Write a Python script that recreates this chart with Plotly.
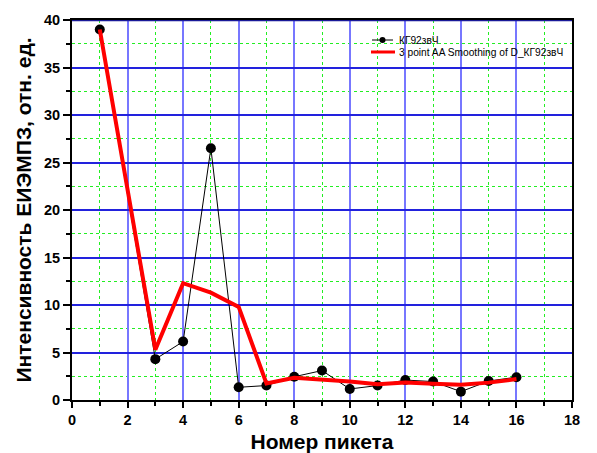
import plotly.graph_objects as go

# Picket numbers and measured intensity
pickets = [1, 3, 4, 5, 6, 7, 8, 9, 10, 11, 12, 13, 14, 15, 16]
intensity = [39.0, 4.3, 6.15, 26.5, 1.34, 1.52, 2.45, 3.1, 1.16, 1.52, 2.1, 1.94, 0.88, 2.0, 2.4]

# 3-point adjacent-averaging smoothed curve
smoothed = [39.0, 5.3, 12.3, 11.3, 9.8, 1.75, 2.35, 2.2, 1.95, 1.66, 1.83, 1.7, 1.6, 1.83, 2.2]

x_ticks = list(range(0, 19, 2))
y_ticks = list(range(0, 41, 5))

name_raw = "КГ92звЧ"
name_smooth = "3 point AA Smoothing of D_КГ92звЧ"

FONT = "Arial, Liberation Sans, sans-serif"
W, H = 597, 453
ML, MR, MT, MB = 72, 25, 20, 53
PW, PH = W - ML - MR, H - MT - MB


def px(x):
    return (x - ML) / PW


def py(y):
    return (H - MB - y) / PH


fig = go.Figure()
fig.add_trace(go.Scatter(
    x=pickets, y=intensity, mode="lines+markers", name=name_raw,
    line=dict(color="black", width=1),
    marker=dict(color="black", size=10),
    showlegend=False,
))
fig.add_trace(go.Scatter(
    x=pickets, y=smoothed, mode="lines", name=name_smooth,
    line=dict(color="#ff0000", width=4),
    showlegend=False,
))

# navy line closing the frame at the top
fig.add_shape(type="line", xref="x", yref="y", x0=0, x1=18, y0=40, y1=40,
              line=dict(color="#1a1a99", width=2.5), layer="above")

# legend box: line samples and labels
row1, row2 = 40, 52
fig.add_shape(type="line", xref="paper", yref="paper",
              x0=px(372), x1=px(393), y0=py(row1), y1=py(row1),
              line=dict(color="black", width=1))
fig.add_shape(type="circle", xref="paper", yref="paper",
              x0=px(379.5), x1=px(385.5), y0=py(row1 + 3), y1=py(row1 - 3),
              line=dict(color="black", width=0), fillcolor="black")
fig.add_shape(type="line", xref="paper", yref="paper",
              x0=px(371), x1=px(395), y0=py(row2), y1=py(row2),
              line=dict(color="#ff0000", width=3))
for row, label in ((row1, name_raw), (row2, name_smooth)):
    fig.add_annotation(xref="paper", yref="paper", x=px(396.5), y=py(row),
                       text=label, showarrow=False, xanchor="left", yanchor="middle",
                       font=dict(size=10.2, family=FONT, color="black"))

fig.update_layout(
    width=W, height=H,
    margin=dict(l=ML, r=MR, t=MT, b=MB),
    paper_bgcolor="white", plot_bgcolor="white",
    font=dict(family=FONT, color="black"),
    showlegend=False,
    xaxis=dict(
        range=[0, 18], tickmode="array", tickvals=x_ticks, automargin=False,
        ticks="outside", ticklen=6, tickwidth=2, tickcolor="black",
        showline=True, linecolor="black", linewidth=2, mirror=True,
        showgrid=True, gridcolor="#7777ff", gridwidth=2,
        zeroline=False,
        tickfont=dict(size=14.5, family=FONT, weight="bold"),
        minor=dict(dtick=1, tick0=1, ticks="outside", ticklen=4, tickwidth=1.5,
                   tickcolor="black", showgrid=True, gridcolor="#22ee22",
                   griddash="dot", gridwidth=1),
        title=dict(text="<b>Номер пикета</b>", font=dict(size=21), standoff=7),
    ),
    yaxis=dict(
        range=[0, 40], tickmode="array", tickvals=y_ticks, automargin=False,
        ticks="outside", ticklen=7, tickwidth=2, tickcolor="black",
        showline=True, linecolor="black", linewidth=2, mirror=True,
        showgrid=True, gridcolor="#2222dd", gridwidth=1.5,
        zeroline=False,
        tickfont=dict(size=14.5, family=FONT, weight="bold"),
        minor=dict(dtick=2.5, tick0=2.5, ticks="outside", ticklen=4, tickwidth=1.5,
                   tickcolor="black", showgrid=True, gridcolor="#22ee22",
                   griddash="dot", gridwidth=1),
        title=dict(text="<b>Интенсивность ЕИЭМПЗ, отн. ед.</b>", font=dict(size=21), standoff=7),
    ),
)

fig.write_html("out.html")
